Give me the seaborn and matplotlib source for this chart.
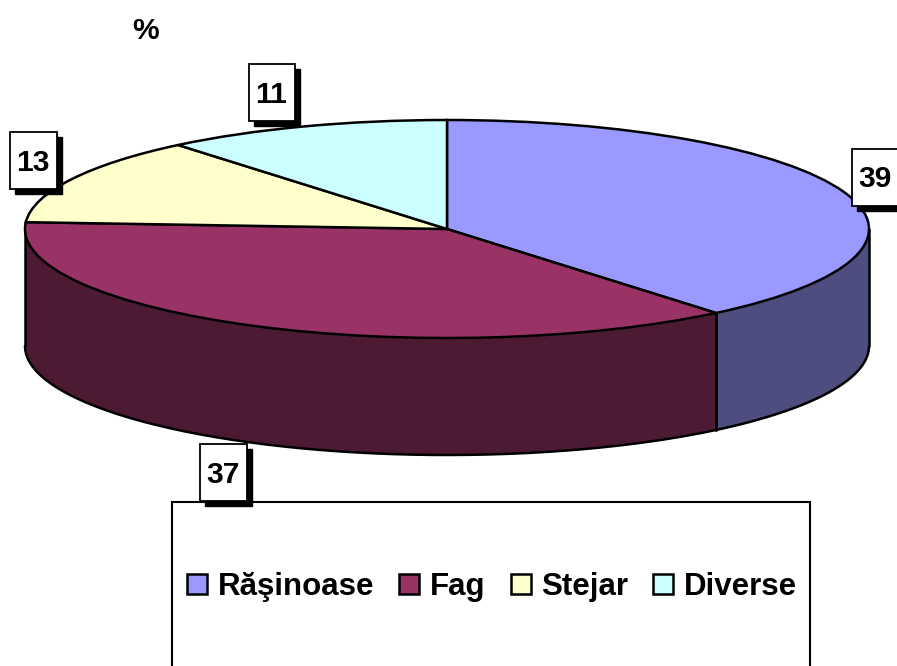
import numpy as np
import matplotlib
matplotlib.use("Agg")
import matplotlib.pyplot as plt
from matplotlib.patches import Rectangle, Patch
import seaborn as sns

categories = ["Răşinoase", "Fag", "Stejar", "Diverse"]
values = [39, 37, 13, 11]
top_colors = ["#9999FF", "#993366", "#FFFFCC", "#CCFFFF"]
side_colors = ["#4D4D80", "#4D1A33", "#808066", "#668080"]
title = "%"

# layout, in reference pixels
W, H = 897, 666
CX, CY, RX, RY, DEPTH = 447, 229, 422, 109, 117
label_boxes = [(852, 149, 60, 57, 875, 179), (200, 444, 47, 57, 223, 475),
               (10, 132, 47, 57, 33, 163), (249, 64, 46, 57, 271, 95)]
FS = 21.6
LEG_FS = 22.5
LW = 1.8

sns.set_theme(style="white")
plt.rcParams["font.family"] = ["Liberation Sans", "DejaVu Sans"]
plt.rcParams["font.weight"] = "bold"

fig = plt.figure(figsize=(W / 100, H / 100), dpi=100, facecolor="white")
ax = fig.add_axes([0, 0, 1, 1])

palette = sns.color_palette(top_colors)
depth = DEPTH / RY

# side wall of the pie: the front half of each slice
edges = 90 - np.cumsum([0] + values) * 3.6
for i in range(len(values)):
    start, stop = min(edges[i], 0), max(edges[i + 1], -180)
    if start <= stop:
        continue
    t = np.radians(np.linspace(start, stop, 200))
    x, y = np.cos(t), np.sin(t)
    ax.fill_between(x, y, y - depth, color=side_colors[i], lw=0, zorder=1)
    ax.plot(x, y - depth, color="black", lw=LW, zorder=2, solid_capstyle="round")
    ax.plot([x[0], x[0]], [y[0], y[0] - depth], color="black", lw=LW, zorder=2, solid_capstyle="round")
    ax.plot([x[-1], x[-1]], [y[-1], y[-1] - depth], color="black", lw=LW, zorder=2, solid_capstyle="round")

# top face
wedges, _ = ax.pie(values, colors=palette, startangle=90, counterclock=False, radius=1,
                   wedgeprops=dict(edgecolor="black", linewidth=LW, zorder=3))
ax.set_aspect("auto")
ax.set_xlim(-CX / RX, (W - CX) / RX)
ax.set_ylim(-(H - CY) / RY, CY / RY)
ax.axis("off")

# overlay in pixel coordinates: data labels, legend
ov = fig.add_axes([0, 0, 1, 1], facecolor="none")
ov.set_xlim(0, W)
ov.set_ylim(H, 0)
ov.axis("off")

ov.add_patch(Rectangle((171.5, 501.5), 638.5, 220, fc="white", ec="black", lw=1.5, zorder=1))
for v, (bx, by, bw, bh, tx, ty) in zip(values, label_boxes):
    ov.add_patch(Rectangle((bx + 5, by + 5), bw, bh, fc="black", ec="black", lw=1, zorder=2))
    ov.add_patch(Rectangle((bx, by), bw, bh, fc="white", ec="black", lw=1.3, zorder=3))
    ov.text(tx, ty, str(v), ha="center", va="center", fontsize=FS, fontweight="bold",
            color="black", zorder=4)

ov.text(146, 31, title, ha="center", va="center", fontsize=FS, fontweight="bold", color="black")

handles = [Patch(facecolor=c, edgecolor="black", linewidth=LW) for c in top_colors]
leg = ov.legend(handles, categories, ncol=4, frameon=False, loc="center",
                bbox_to_anchor=(492, 587), bbox_transform=ov.transData,
                prop=dict(family="Liberation Sans", weight="bold", size=LEG_FS),
                labelcolor="black",
                handlelength=0.64, handleheight=0.64, handletextpad=0.33,
                columnspacing=0.81, borderpad=0, borderaxespad=0, labelspacing=0)
leg.set_zorder(5)

fig.savefig("out.png", dpi=100, facecolor="white")
